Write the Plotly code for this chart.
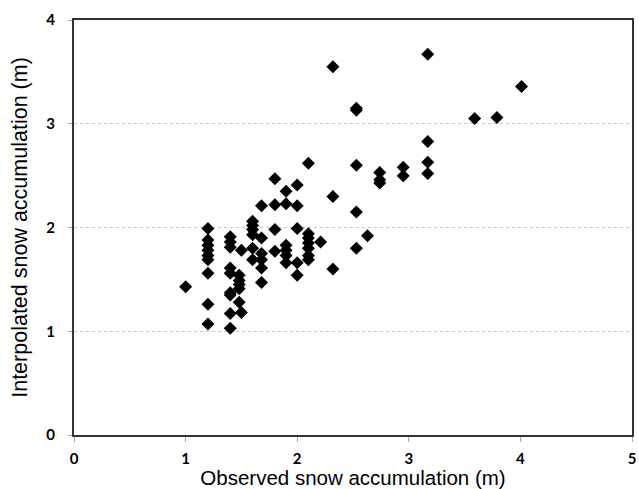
import plotly.graph_objects as go

observed = [1.0,
            1.2, 1.2, 1.2, 1.2, 1.2, 1.2, 1.2, 1.2, 1.2,
            1.4, 1.4, 1.4, 1.4, 1.4, 1.4, 1.4, 1.4, 1.4,
            1.48, 1.48, 1.48, 1.48, 1.48, 1.5, 1.5,
            1.6, 1.6, 1.6, 1.6, 1.6, 1.6,
            1.68, 1.68, 1.68, 1.68, 1.68, 1.68,
            1.8, 1.8, 1.8, 1.8,
            1.9, 1.9, 1.9, 1.9, 1.9, 1.9,
            2.0, 2.0, 2.0, 2.0, 2.0,
            2.1, 2.1, 2.1, 2.1, 2.1, 2.1, 2.1,
            2.21,
            2.32, 2.32, 2.32,
            2.53, 2.53, 2.53, 2.53, 2.53,
            2.63,
            2.74, 2.74, 2.74,
            2.95, 2.95,
            3.17, 3.17, 3.17, 3.17,
            3.59, 3.79, 4.01]
interpolated = [1.43,
                1.99, 1.88, 1.83, 1.78, 1.73, 1.69, 1.56, 1.26, 1.07,
                1.91, 1.86, 1.81, 1.61, 1.56, 1.37, 1.35, 1.17, 1.03,
                1.54, 1.49, 1.45, 1.41, 1.28, 1.18, 1.78,
                2.06, 2.02, 1.98, 1.93, 1.80, 1.69,
                2.21, 1.90, 1.75, 1.69, 1.61, 1.47,
                2.47, 2.22, 1.98, 1.77,
                2.35, 2.23, 1.83, 1.78, 1.73, 1.66,
                2.41, 2.21, 1.99, 1.66, 1.54,
                2.62, 1.94, 1.90, 1.85, 1.80, 1.73, 1.69,
                1.86,
                3.55, 2.30, 1.60,
                3.15, 3.13, 2.60, 2.15, 1.80,
                1.92,
                2.53, 2.46, 2.43,
                2.58, 2.50,
                3.67, 2.83, 2.63, 2.52,
                3.05, 3.06, 3.36]

x_ticks = [0, 1, 2, 3, 4, 5]
y_ticks = [0, 1, 2, 3, 4]

fig = go.Figure()
fig.add_trace(go.Scatter(
    x=observed, y=interpolated, mode="markers",
    marker=dict(symbol="diamond", size=10, color="black",
                line=dict(width=0)),
    showlegend=False, cliponaxis=False))

tick_font = dict(family="Lato", size=15, color="black", weight="bold")

fig.update_layout(
    width=639, height=489,
    margin=dict(l=74, r=7, t=20, b=54),
    paper_bgcolor="white", plot_bgcolor="white",
    xaxis=dict(range=[0, 5], tickvals=x_ticks, ticktext=[str(v) for v in x_ticks],
               showgrid=False, zeroline=False, automargin=False,
               showline=True, linecolor="#333333", linewidth=2, mirror=True,
               ticks="outside", ticklen=5, tickcolor="#aaaaaa",
               tickfont=tick_font, ticklabelstandoff=4,
               title=dict(text="Observed snow accumulation (m)",
                          font=dict(family="Liberation Sans", size=20.5, color="black"),
                          standoff=6)),
    yaxis=dict(range=[0, 4], tickvals=y_ticks, ticktext=[str(v) for v in y_ticks],
               showgrid=True, gridcolor="#c4c4c4", griddash="dot", gridwidth=1,
               zeroline=False, automargin=False,
               showline=True, linecolor="#333333", linewidth=2, mirror=True,
               ticks="outside", ticklen=4, tickcolor="#aaaaaa",
               tickfont=tick_font, ticklabelstandoff=10,
               title=dict(text="Interpolated snow accumulation (m)",
                          font=dict(family="Liberation Sans", size=21.5, color="black"),
                          standoff=13)),
)

fig.write_html("out.html")
